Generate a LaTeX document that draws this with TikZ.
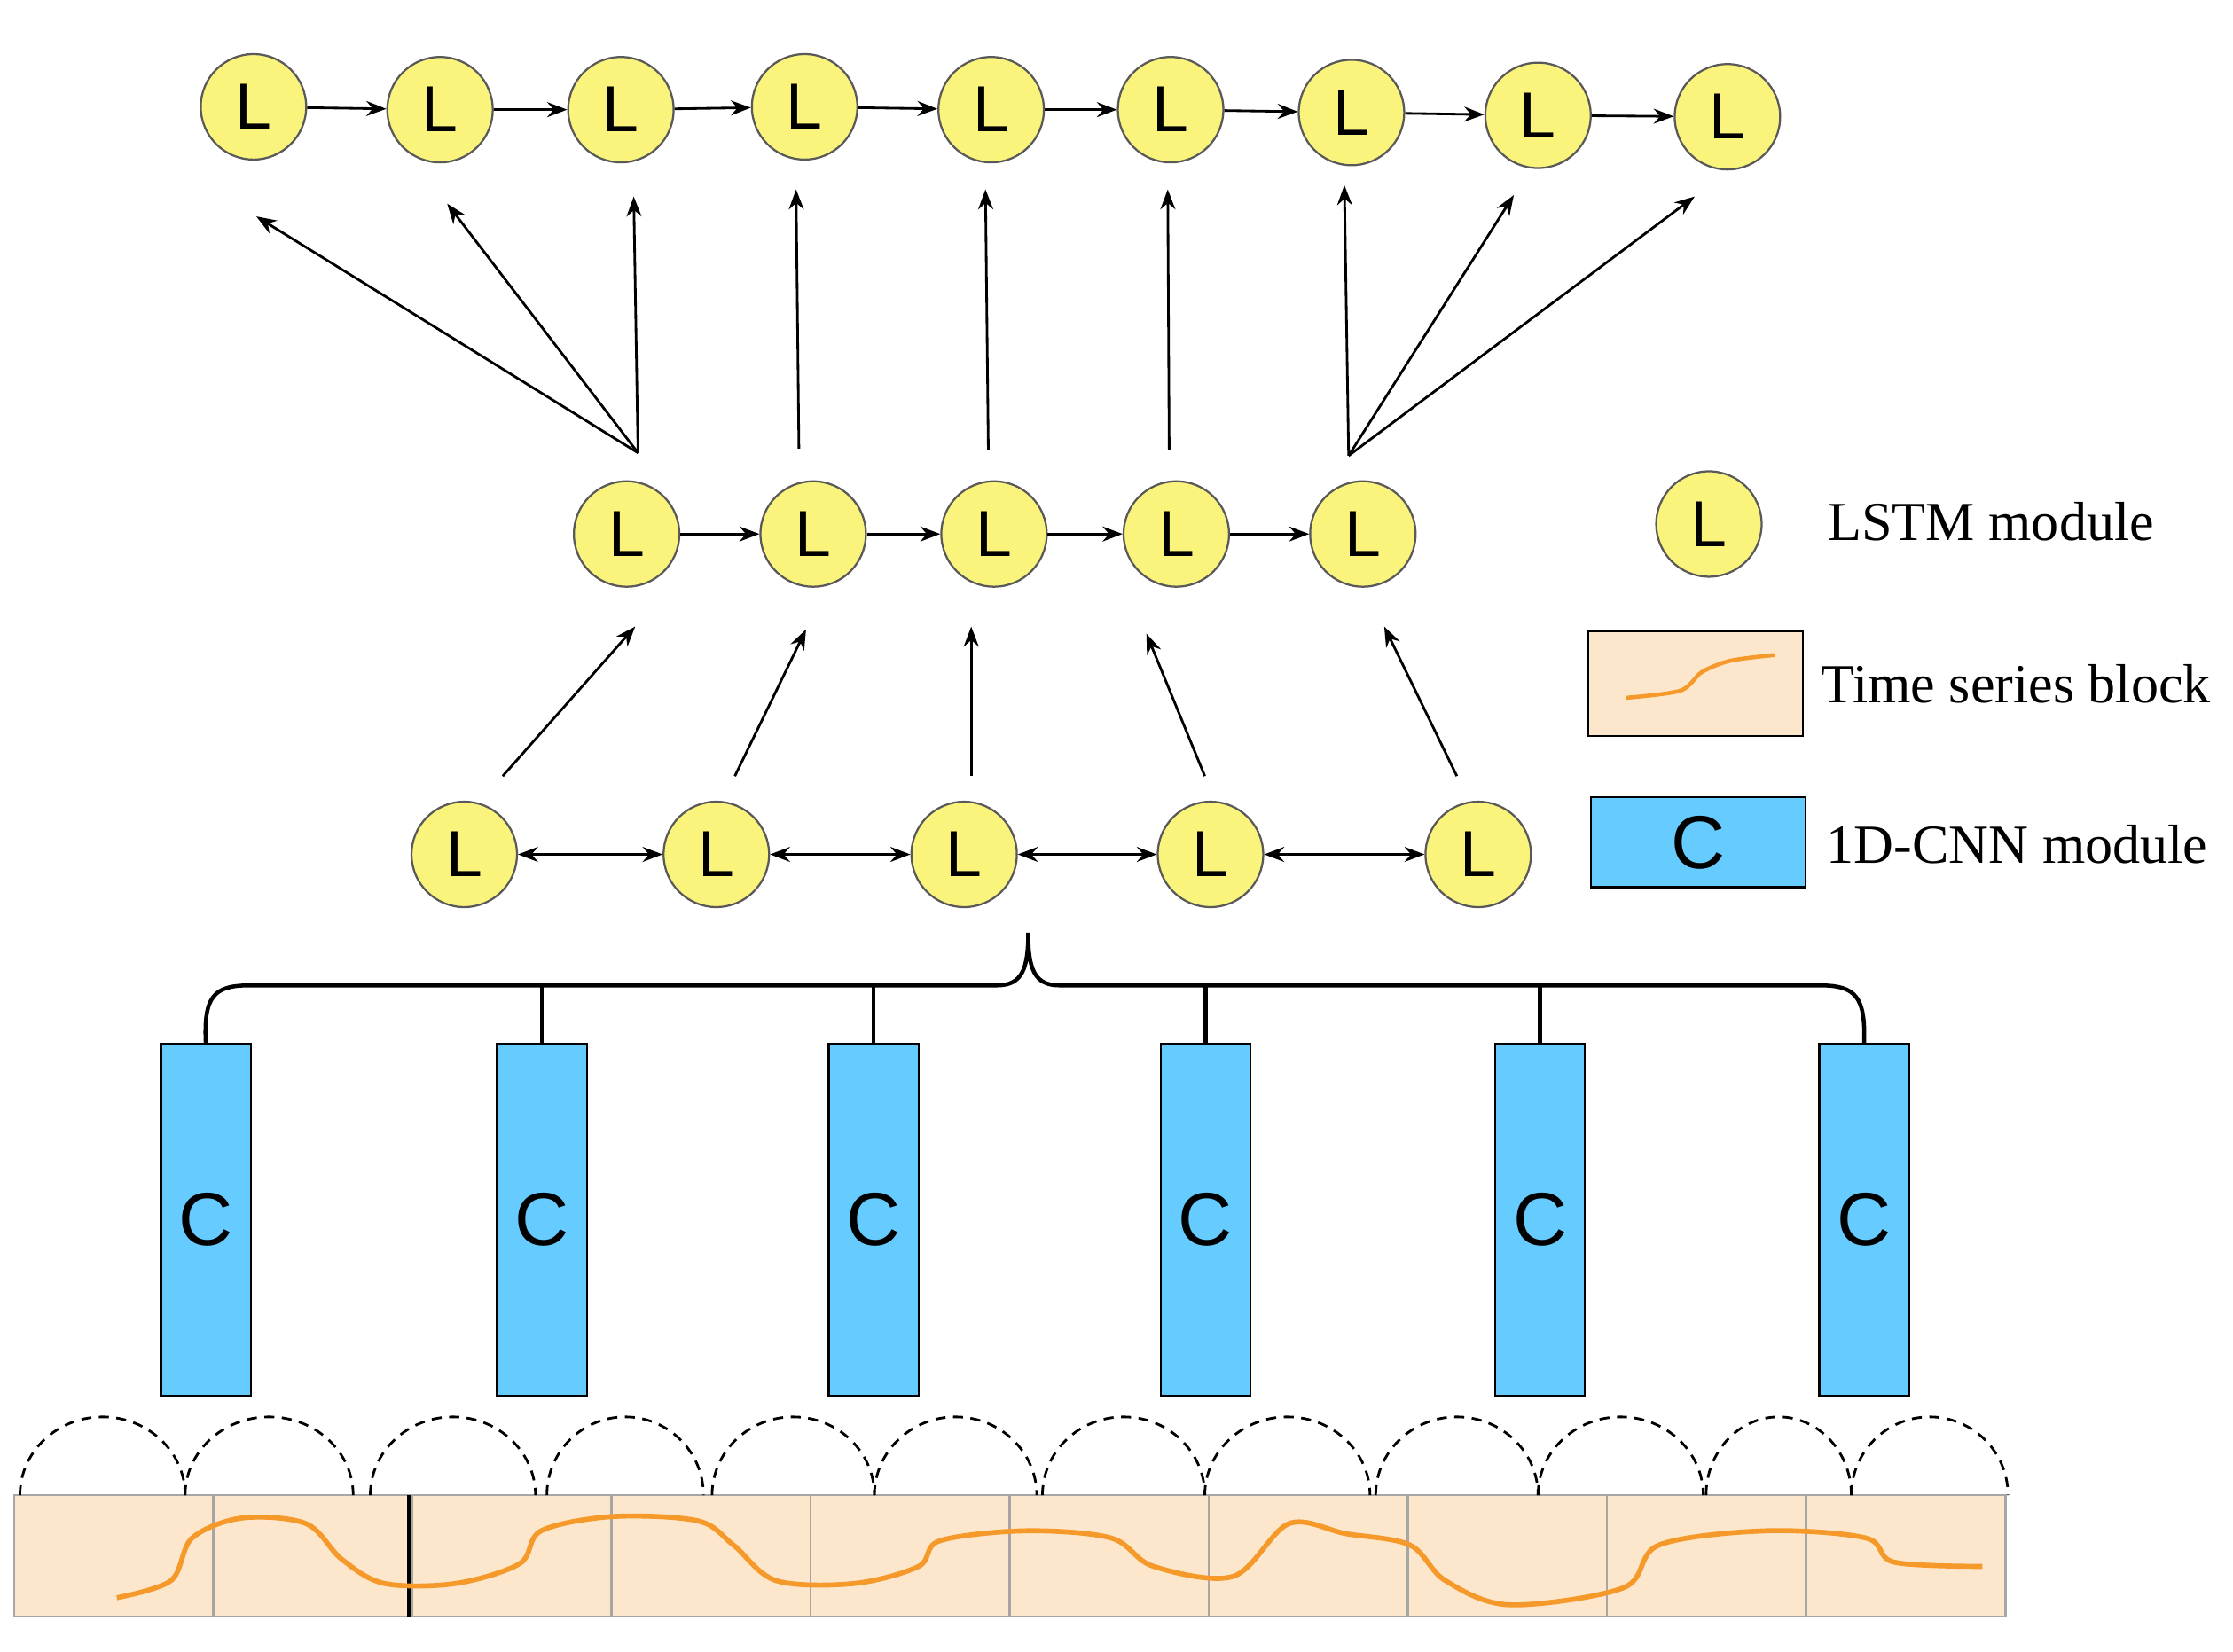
\documentclass[tikz,border=0pt]{standalone}
\usepackage{fontspec}
\setmainfont{Liberation Serif}
\newfontfamily\sansL{Liberation Sans}
\usetikzlibrary{arrows.meta}
\definecolor{lyel}{HTML}{FAF47C}
\definecolor{cblue}{HTML}{66CCFF}
\definecolor{tsb}{HTML}{FDE7CC}
\definecolor{orc}{HTML}{F59A2A}
\begin{document}
\begin{tikzpicture}[x=0.01cm,y=-0.01cm,
  lst/.style={circle,draw=gray!70!black,fill=lyel,minimum size=0.74cm,inner sep=0pt,font=\sansL\fontsize{13}{13}\selectfont},
  cnn/.style={draw=black,fill=cblue,minimum width=0.63cm,minimum height=2.47cm,inner sep=0pt,font=\sansL\fontsize{15}{15}\selectfont},
  ts/.style={draw=gray!70,fill=tsb,minimum width=1.4cm,minimum height=0.85cm,inner sep=0pt},
  arr/.style={-{Stealth[length=4pt,width=3pt]},line width=0.5pt},
  darr/.style={{Stealth[length=4pt,width=3pt]}-{Stealth[length=4pt,width=3pt]},line width=0.5pt},
  leg/.style={anchor=west,font=\fontsize{11}{11}\selectfont,inner sep=0pt}]
\useasboundingbox (0,0) rectangle (1568,1160);
% top row
\foreach \i/\x/\y in {1/178/75,2/309/77,3/436/77,4/565/75,5/696/77,6/822/77,7/949/79,8/1080/81,9/1213/82}
  \node[lst] (t\i) at (\x,\y) {L};
\foreach \a/\b in {1/2,2/3,3/4,4/5,5/6,6/7,7/8,8/9} \draw[arr] (t\a) -- (t\b);
% middle row
\foreach \i/\x in {1/440,2/571,3/698,4/826,5/957}
  \node[lst] (m\i) at (\x,375) {L};
\foreach \a/\b in {1/2,2/3,3/4,4/5} \draw[arr] (m\a) -- (m\b);
% bottom row
\foreach \i/\x in {1/326,2/503,3/677,4/850,5/1038}
  \node[lst] (b\i) at (\x,600) {L};
\foreach \a/\b in {1/2,2/3,3/4,4/5} \draw[darr] (b\a) -- (b\b);
% middle to top
\coordinate (s1) at (448,318); \coordinate (s2) at (561,315); \coordinate (s3) at (694,316);
\coordinate (s4) at (821,316); \coordinate (s5) at (947,320);
\coordinate (e1) at (180,152); \coordinate (e2) at (314,143); \coordinate (e3) at (445,138);
\coordinate (e4) at (559,133); \coordinate (e5) at (692,133); \coordinate (e6) at (820,133);
\coordinate (e7) at (944,130); \coordinate (e8) at (1063,137); \coordinate (e9) at (1190,138);
\foreach \s/\e in {1/1,1/2,1/3,2/4,3/5,4/6,5/7,5/8,5/9} \draw[arr] (s\s) -- (e\e);
% bottom to middle
\foreach \i/\x/\y/\u/\v in {1/353/545/446/440,2/516/545/566/442,3/682/545/682/440,4/846/545/805/445,5/1023/545/972/440}
  {\coordinate (p\i) at (\x,\y); \coordinate (q\i) at (\u,\v); \draw[arr] (p\i) -- (q\i);}
% CNN boxes
\foreach \i/\x in {1/144.5,2/380.5,3/613.5,4/846.5,5/1081.5,6/1309}
  \node[cnn] (c\i) at (\x,856.5) {C};
% brace
\coordinate (bt) at (722,655);
\draw[line width=0.8pt] (c1.north) .. controls (143,700) and (150,692) .. (175,692) -- (700,692)
  .. controls (718,692) and (722,680) .. (bt) .. controls (722,680) and (726,692) .. (744,692)
  -- (1278,692) .. controls (1303,692) and (1310,700) .. (c6.north);
\foreach \i/\x in {2/380.5,3/613.5,4/846.5,5/1081.5} \draw[line width=0.8pt] (\x,692) -- (c\i.north);
% time series blocks
\foreach \i in {0,...,9} \node[ts] (ts\i) at ({80+\i*139.8},1092.5) {};
\draw[black,line width=0.8pt] (287,1050) -- (287,1135);
% dashed arcs
\foreach \a/\b in {14/130,130/248,260/376,384/494,500/614,614/728,732/846,846/962,966/1080,1080/1196,1198/1300,1300/1410}
  \draw[dash pattern=on 2pt off 1.5pt,line width=0.5pt] (\a,1050) arc[start angle=180,end angle=0,x radius={(\b-\a)/2},y radius=-55];
% orange curve
\draw[orc,line width=1pt] plot[smooth,tension=0.55] coordinates {(82,1122) (120,1110) (135,1080) (170,1066) (215,1070) (240,1095) (270,1112) (320,1112) (365,1098) (380,1075) (430,1065) (490,1068) (515,1085) (545,1110) (600,1112) (645,1100) (660,1082) (720,1075) (780,1080) (810,1100) (866,1107) (905,1070) (945,1077) (990,1085) (1015,1110) (1060,1127) (1140,1115) (1165,1085) (1240,1075) (1310,1080) (1330,1097) (1392,1100)};
% legend
\node[lst] (lg1) at (1200,368) {L};
\node[leg] (lt1) at (1283,366) {LSTM module};
\node[ts,draw=black,minimum width=1.51cm,minimum height=0.74cm] (lg2) at (1190.5,480) {};
\draw[orc,line width=0.8pt] plot[smooth] coordinates {(1142,490) (1180,485) (1195,472) (1215,464) (1246,460)};
\node[leg] (lt2) at (1278,480) {Time series block};
\node[cnn,minimum width=1.51cm,minimum height=0.63cm] (lg3) at (1192.5,591.5) {C};
\node[leg] (lt3) at (1282,593) {1D-CNN module};
\end{tikzpicture}
\end{document}
